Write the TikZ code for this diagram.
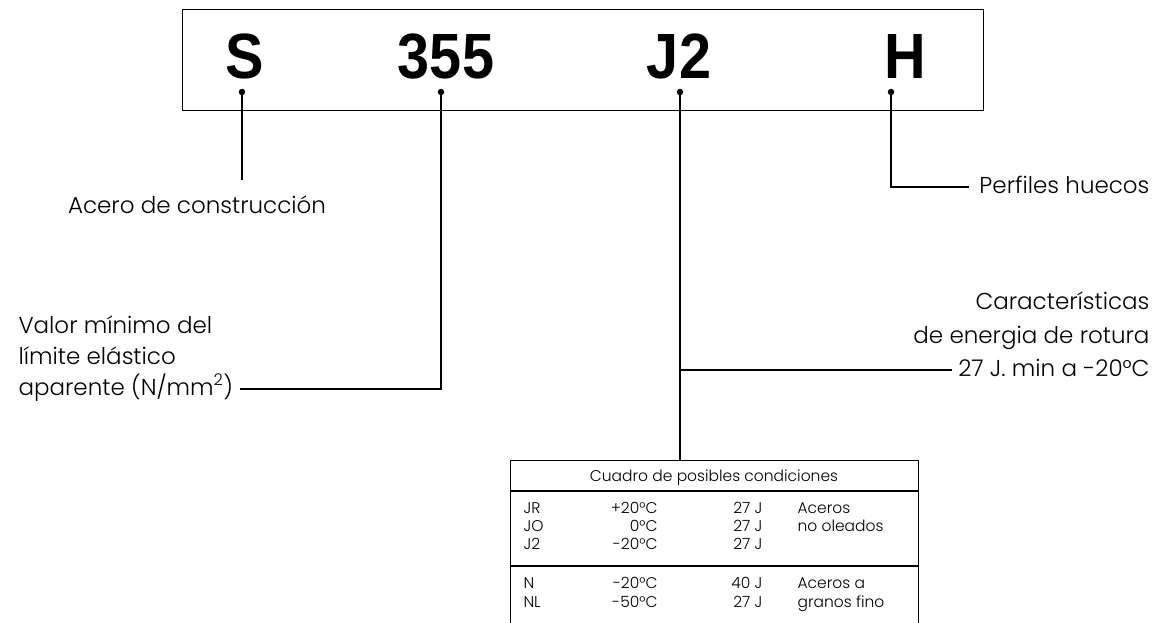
\documentclass[tikz,border=0pt]{standalone}
\usepackage{fontspec}
\setmainfont{Poppins}[UprightFont=* Light]
\newfontfamily\codefont{Liberation Sans}[FakeStretch=0.9]
\begin{document}
\begin{tikzpicture}[x=1pt,y=-1pt,line width=1.1pt,
  code/.style={font=\codefont\bfseries\fontsize{64}{64}\selectfont, inner sep=0pt, anchor=base},
  pin/.style={circle, fill=black, inner sep=0pt, minimum size=6.5pt},
  lbl/.style={font=\fontsize{23}{23}\selectfont, inner sep=0pt},
  tbl/.style={font=\fontsize{15.5}{15.5}\selectfont, inner sep=0pt}]
\useasboundingbox (0,0) rectangle (1153,622);
\clip (0,0) rectangle (1153,622);
% code box
\node[draw, line width=1.2pt, minimum width=801pt, minimum height=101pt, inner sep=0pt, anchor=north west] (box) at (182,9) {};
\node[code] (S) at (245,78) {S};
\node[code] (N355) at (446,78) {355};
\node[code] (J2) at (679,78) {J2};
\node[code] (H) at (905,78) {H};
\node[pin] (dS) at (242,92) {};
\node[pin] (d355) at (441,92) {};
\node[pin] (dJ) at (680,92) {};
\node[pin] (dH) at (891,92) {};
% labels
\node[lbl, anchor=base] (tS) at (197,213) {Acero de construcción};
\node[lbl, anchor=base west] (tV1) at (18,333) {Valor mínimo del};
\node[lbl, anchor=base west] (tV2) at (18,364) {límite elástico};
\node[lbl, anchor=base west] (tV3) at (18,395) {aparente (N/mm\textsuperscript{2})};
\node[lbl, anchor=base east] (tH) at (1150,193) {Perfiles huecos};
\node[lbl, anchor=base east] (tJ1) at (1150,309) {Características};
\node[lbl, anchor=base east] (tJ2) at (1150,343) {de energia de rotura};
\node[lbl, anchor=base east] (tJ3) at (1150,376) {27 J. min a -20°C};
% connectors
\coordinate (eS) at (242,180);
\draw (dS.center) -- (eS);
\coordinate (e355) at ([xshift=6pt]tV3.east |- 0,389);
\draw (d355.center) |- (e355);
\coordinate (eH) at ([xshift=-10pt]tH.west |- 0,187);
\draw (dH.center) |- (eH);
\coordinate (eJ) at ([xshift=-6pt]tJ3.west |- 0,370);
% table
\node[draw, line width=1.3pt, minimum width=408pt, minimum height=220pt, inner sep=0pt, anchor=north west] (tab) at (510,460) {};
\draw (dJ.center) -- (tab.north -| dJ.center);
\draw (dJ.center |- eJ) -- (eJ);
\draw[line width=1.3pt] (tab.west |- 0,491) -- (tab.east |- 0,491);
\draw[line width=1.3pt] (tab.west |- 0,566) -- (tab.east |- 0,566);
\node[tbl, anchor=base] (th) at (714,481) {Cuadro de posibles condiciones};
\node[tbl, anchor=base west] (r1a) at (523,513) {JR};
\node[tbl, anchor=base east] (r1b) at (658,513) {+20°C};
\node[tbl, anchor=base east] (r1c) at (763,513) {27 J};
\node[tbl, anchor=base west] (r1d) at (797,513) {Aceros};
\node[tbl, anchor=base west] (r2a) at (523,531) {JO};
\node[tbl, anchor=base east] (r2b) at (658,531) {0°C};
\node[tbl, anchor=base east] (r2c) at (763,531) {27 J};
\node[tbl, anchor=base west] (r2d) at (797,531) {no oleados};
\node[tbl, anchor=base west] (r3a) at (523,549) {J2};
\node[tbl, anchor=base east] (r3b) at (658,549) {-20°C};
\node[tbl, anchor=base east] (r3c) at (763,549) {27 J};
\node[tbl, anchor=base west] (r4a) at (523,588) {N};
\node[tbl, anchor=base east] (r4b) at (658,588) {-20°C};
\node[tbl, anchor=base east] (r4c) at (763,588) {40 J};
\node[tbl, anchor=base west] (r4d) at (797,588) {Aceros a};
\node[tbl, anchor=base west] (r5a) at (523,607) {NL};
\node[tbl, anchor=base east] (r5b) at (658,607) {-50°C};
\node[tbl, anchor=base east] (r5c) at (763,607) {27 J};
\node[tbl, anchor=base west] (r5d) at (797,607) {granos fino};
\end{tikzpicture}
\end{document}
